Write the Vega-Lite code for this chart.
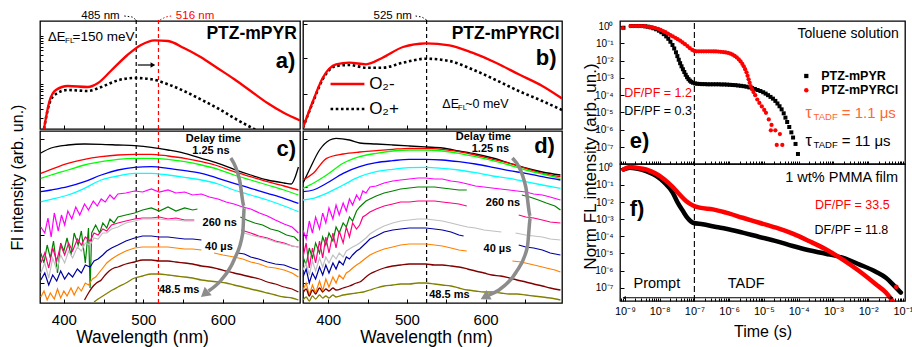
{
"$schema":"https://vega.github.io/schema/vega-lite/v6.json",
"background":"white",
"padding":{"left":8,"top":9,"right":0,"bottom":0},
"autosize":{"type":"pad"},
"config":{"font":"Liberation Sans","view":{"stroke":"#000","strokeWidth":1.3},
"axis":{"domain":false,"grid":false,"tickColor":"#000","tickSize":-4,"tickWidth":1,"labelColor":"#000","titleColor":"#000","titleFontWeight":"normal","labelFont":"Liberation Sans","titleFont":"Liberation Sans","labelOverlap":false,"labelFlush":false},
"text":{"font":"Liberation Sans","color":"#000"}},
"datasets":{
"ab":[
{"p":"a","s":"r","w":375,"v":0},{"p":"a","s":"r","w":382,"v":28},{"p":"a","s":"r","w":390,"v":39},{"p":"a","s":"r","w":405,"v":43},{"p":"a","s":"r","w":430,"v":42},{"p":"a","s":"r","w":443,"v":46},{"p":"a","s":"r","w":459,"v":58},{"p":"a","s":"r","w":480,"v":74},{"p":"a","s":"r","w":497,"v":84},{"p":"a","s":"r","w":514,"v":88.7},{"p":"a","s":"r","w":531,"v":88},{"p":"a","s":"r","w":551,"v":81},{"p":"a","s":"r","w":572,"v":72},{"p":"a","s":"r","w":593,"v":61},{"p":"a","s":"r","w":614,"v":50},{"p":"a","s":"r","w":635,"v":38},{"p":"a","s":"r","w":656,"v":26},{"p":"a","s":"r","w":677,"v":16},{"p":"a","s":"r","w":697,"v":8.5},
{"p":"a","s":"k","w":375,"v":0},{"p":"a","s":"k","w":382,"v":26},{"p":"a","s":"k","w":390,"v":35},{"p":"a","s":"k","w":405,"v":39},{"p":"a","s":"k","w":430,"v":38},{"p":"a","s":"k","w":447,"v":42},{"p":"a","s":"k","w":468,"v":48.7},{"p":"a","s":"k","w":488,"v":51},{"p":"a","s":"k","w":510,"v":49.7},{"p":"a","s":"k","w":531,"v":44.7},{"p":"a","s":"k","w":551,"v":38},{"p":"a","s":"k","w":572,"v":29.7},{"p":"a","s":"k","w":593,"v":21},{"p":"a","s":"k","w":614,"v":11},{"p":"a","s":"k","w":639,"v":0},{"p":"a","s":"k","w":650,"v":-5},
{"p":"b","s":"r","w":368,"v":1.3},{"p":"b","s":"r","w":380.7,"v":28},{"p":"b","s":"r","w":393,"v":51},{"p":"b","s":"r","w":410,"v":64.7},{"p":"b","s":"r","w":427,"v":66.3},{"p":"b","s":"r","w":448,"v":64.7},{"p":"b","s":"r","w":469,"v":71.3},{"p":"b","s":"r","w":495,"v":82},{"p":"b","s":"r","w":524,"v":85.7},{"p":"b","s":"r","w":554,"v":83.7},{"p":"b","s":"r","w":583,"v":76.3},{"p":"b","s":"r","w":613,"v":66.3},{"p":"b","s":"r","w":642,"v":54.7},{"p":"b","s":"r","w":672,"v":43},{"p":"b","s":"r","w":697,"v":30.5},
{"p":"b","s":"k","w":368,"v":1.3},{"p":"b","s":"k","w":380.7,"v":27},{"p":"b","s":"k","w":393,"v":49.7},{"p":"b","s":"k","w":410,"v":63},{"p":"b","s":"k","w":427,"v":64},{"p":"b","s":"k","w":448,"v":61.3},{"p":"b","s":"k","w":469,"v":61.3},{"p":"b","s":"k","w":495,"v":66.3},{"p":"b","s":"k","w":524,"v":70.3},{"p":"b","s":"k","w":554,"v":68},{"p":"b","s":"k","w":583,"v":59.7},{"p":"b","s":"k","w":613,"v":49},{"p":"b","s":"k","w":642,"v":38},{"p":"b","s":"k","w":672,"v":28},{"p":"b","s":"k","w":697,"v":19}
],
"C":[
{"s":"k","w":371,"v":150},{"s":"k","w":384,"v":155},{"s":"k","w":405,"v":158},{"s":"k","w":426,"v":159},{"s":"k","w":447,"v":158.7},{"s":"k","w":468,"v":158},{"s":"k","w":489,"v":157.3},{"s":"k","w":510,"v":155.7},{"s":"k","w":531,"v":153},{"s":"k","w":552,"v":149.7},{"s":"k","w":573,"v":144.7},{"s":"k","w":594,"v":139.7},{"s":"k","w":614,"v":133.7},{"s":"k","w":635,"v":128},{"s":"k","w":656,"v":123},{"s":"k","w":677,"v":120},{"s":"k","w":686,"v":119},{"s":"k","w":690,"v":124},{"s":"k","w":695,"v":136},
{"s":"r","w":371,"v":129.7},{"s":"r","w":384,"v":133.7},{"s":"r","w":405,"v":139.7},{"s":"r","w":426,"v":143.7},{"s":"r","w":447,"v":146.3},{"s":"r","w":468,"v":148},{"s":"r","w":489,"v":148.7},{"s":"r","w":510,"v":148.7},{"s":"r","w":531,"v":147},{"s":"r","w":552,"v":144.7},{"s":"r","w":573,"v":141.3},{"s":"r","w":594,"v":137},{"s":"r","w":614,"v":131.3},{"s":"r","w":635,"v":126.3},{"s":"r","w":656,"v":121.3},{"s":"r","w":677,"v":117},{"s":"r","w":695,"v":113},
{"s":"lm","w":371,"v":124.7},{"s":"lm","w":384,"v":128},{"s":"lm","w":405,"v":133},{"s":"lm","w":426,"v":138},{"s":"lm","w":447,"v":141.3},{"s":"lm","w":468,"v":143.7},{"s":"lm","w":489,"v":144.7},{"s":"lm","w":510,"v":144.7},{"s":"lm","w":531,"v":143.7},{"s":"lm","w":552,"v":141.3},{"s":"lm","w":573,"v":138},{"s":"lm","w":594,"v":133.7},{"s":"lm","w":614,"v":128},{"s":"lm","w":635,"v":123},{"s":"lm","w":656,"v":118},{"s":"lm","w":677,"v":113},{"s":"lm","w":695,"v":108},
{"s":"b","w":371,"v":111.3},{"s":"b","w":384,"v":113},{"s":"b","w":405,"v":116.3},{"s":"b","w":426,"v":121.3},{"s":"b","w":447,"v":128},{"s":"b","w":468,"v":133},{"s":"b","w":489,"v":135.7},{"s":"b","w":510,"v":136.3},{"s":"b","w":531,"v":134.7},{"s":"b","w":552,"v":132.3},{"s":"b","w":573,"v":129.7},{"s":"b","w":594,"v":124.7},{"s":"b","w":614,"v":119.7},{"s":"b","w":635,"v":114.7},{"s":"b","w":656,"v":109.7},{"s":"b","w":677,"v":104.7},{"s":"b","w":695,"v":99.7},
{"s":"cy","w":371,"v":101.3},{"s":"cy","w":384,"v":103.7},{"s":"cy","w":405,"v":108},{"s":"cy","w":426,"v":114.7},{"s":"cy","w":447,"v":123},{"s":"cy","w":468,"v":127},{"s":"cy","w":489,"v":129.7},{"s":"cy","w":510,"v":129.7},{"s":"cy","w":531,"v":128},{"s":"cy","w":552,"v":125.7},{"s":"cy","w":573,"v":123},{"s":"cy","w":594,"v":119},{"s":"cy","w":614,"v":113},{"s":"cy","w":635,"v":108},{"s":"cy","w":656,"v":103},{"s":"cy","w":677,"v":97},{"s":"cy","w":695,"v":91.3},
{"s":"m","w":371,"v":76},{"s":"m","w":376,"v":70},{"s":"m","w":380,"v":85},{"s":"m","w":384,"v":66},{"s":"m","w":388,"v":90},{"s":"m","w":393,"v":72},{"s":"m","w":397,"v":88},{"s":"m","w":401,"v":78},{"s":"m","w":405,"v":92},{"s":"m","w":410,"v":84},{"s":"m","w":415,"v":96},{"s":"m","w":420,"v":88},{"s":"m","w":426,"v":99},{"s":"m","w":431,"v":93},{"s":"m","w":437,"v":102},{"s":"m","w":442,"v":97},{"s":"m","w":447,"v":104},{"s":"m","w":452,"v":101},{"s":"m","w":458,"v":108},{"s":"m","w":463,"v":104},{"s":"m","w":468,"v":109},{"s":"m","w":478,"v":110},{"s":"m","w":489,"v":112},{"s":"m","w":499,"v":111},{"s":"m","w":510,"v":114},{"s":"m","w":520,"v":111},{"s":"m","w":531,"v":113},{"s":"m","w":541,"v":110},{"s":"m","w":552,"v":111},{"s":"m","w":562,"v":108},{"s":"m","w":573,"v":109},{"s":"m","w":583,"v":106},{"s":"m","w":594,"v":104},{"s":"m","w":604,"v":101},{"s":"m","w":614,"v":99},{"s":"m","w":625,"v":96},{"s":"m","w":635,"v":94},{"s":"m","w":646,"v":90},{"s":"m","w":656,"v":87},{"s":"m","w":666,"v":83},{"s":"m","w":677,"v":79},{"s":"m","w":687,"v":76},{"s":"m","w":695,"v":70},
{"s":"dg","w":371,"v":50},{"s":"dg","w":375,"v":40},{"s":"dg","w":379,"v":58},{"s":"dg","w":383,"v":45},{"s":"dg","w":387,"v":62},{"s":"dg","w":392,"v":30},{"s":"dg","w":396,"v":60},{"s":"dg","w":400,"v":52},{"s":"dg","w":404,"v":65},{"s":"dg","w":409,"v":48},{"s":"dg","w":413,"v":70},{"s":"dg","w":418,"v":58},{"s":"dg","w":422,"v":72},{"s":"dg","w":427,"v":40},{"s":"dg","w":431,"v":75},{"s":"dg","w":433,"v":15},{"s":"dg","w":435,"v":70},{"s":"dg","w":440,"v":78},{"s":"dg","w":445,"v":70},{"s":"dg","w":449,"v":80},{"s":"dg","w":454,"v":75},{"s":"dg","w":458,"v":84},{"s":"dg","w":463,"v":80},{"s":"dg","w":468,"v":86},{"s":"dg","w":478,"v":88},{"s":"dg","w":489,"v":90},{"s":"dg","w":499,"v":93},{"s":"dg","w":510,"v":95},{"s":"dg","w":520,"v":92},{"s":"dg","w":531,"v":96},{"s":"dg","w":541,"v":92},{"s":"dg","w":552,"v":95},{"s":"dg","w":562,"v":93},{"s":"dg","w":568,"v":94},
{"s":"dg","sg":1,"w":622,"v":86},{"s":"dg","sg":1,"w":630,"v":83},{"s":"dg","sg":1,"w":640,"v":80},{"s":"dg","sg":1,"w":650,"v":78},{"s":"dg","sg":1,"w":660,"v":74},{"s":"dg","sg":1,"w":670,"v":72},{"s":"dg","sg":1,"w":680,"v":68},{"s":"dg","sg":1,"w":690,"v":66},{"s":"dg","sg":1,"w":695,"v":62},
{"s":"pk","w":371,"v":40},{"s":"pk","w":376,"v":50},{"s":"pk","w":381,"v":35},{"s":"pk","w":386,"v":55},{"s":"pk","w":391,"v":42},{"s":"pk","w":396,"v":58},{"s":"pk","w":401,"v":48},{"s":"pk","w":406,"v":60},{"s":"pk","w":411,"v":52},{"s":"pk","w":417,"v":64},{"s":"pk","w":422,"v":58},{"s":"pk","w":427,"v":66},{"s":"pk","w":433,"v":62},{"s":"pk","w":438,"v":70},{"s":"pk","w":443,"v":68},{"s":"pk","w":449,"v":74},{"s":"pk","w":454,"v":72},{"s":"pk","w":460,"v":78},{"s":"pk","w":468,"v":80},{"s":"pk","w":478,"v":82},{"s":"pk","w":489,"v":84},{"s":"pk","w":499,"v":85},{"s":"pk","w":510,"v":85},{"s":"pk","w":520,"v":86},{"s":"pk","w":531,"v":84},{"s":"pk","w":541,"v":85},{"s":"pk","w":552,"v":83},{"s":"pk","w":564,"v":83},
{"s":"pk","sg":1,"w":623,"v":73},{"s":"pk","sg":1,"w":635,"v":70},{"s":"pk","sg":1,"w":645,"v":67},{"s":"pk","sg":1,"w":656,"v":65},{"s":"pk","sg":1,"w":666,"v":62},{"s":"pk","sg":1,"w":677,"v":60},{"s":"pk","sg":1,"w":687,"v":57},{"s":"pk","sg":1,"w":695,"v":56},
{"s":"gy","w":371,"v":30},{"s":"gy","w":376,"v":40},{"s":"gy","w":381,"v":25},{"s":"gy","w":386,"v":45},{"s":"gy","w":391,"v":33},{"s":"gy","w":396,"v":48},{"s":"gy","w":401,"v":40},{"s":"gy","w":406,"v":52},{"s":"gy","w":411,"v":45},{"s":"gy","w":417,"v":56},{"s":"gy","w":422,"v":52},{"s":"gy","w":427,"v":60},{"s":"gy","w":433,"v":58},{"s":"gy","w":438,"v":65},{"s":"gy","w":443,"v":64},{"s":"gy","w":449,"v":70},{"s":"gy","w":454,"v":70},{"s":"gy","w":460,"v":74},{"s":"gy","w":468,"v":76},{"s":"gy","w":478,"v":80},{"s":"gy","w":489,"v":82},{"s":"gy","w":499,"v":84},{"s":"gy","w":510,"v":84},{"s":"gy","w":520,"v":84},{"s":"gy","w":531,"v":83},{"s":"gy","w":541,"v":83},{"s":"gy","w":552,"v":82},{"s":"gy","w":564,"v":82},
{"s":"gy","sg":1,"w":623,"v":71},{"s":"gy","sg":1,"w":635,"v":68},{"s":"gy","sg":1,"w":645,"v":66},{"s":"gy","sg":1,"w":656,"v":64},{"s":"gy","sg":1,"w":666,"v":61},{"s":"gy","sg":1,"w":677,"v":59},{"s":"gy","sg":1,"w":687,"v":57},{"s":"gy","sg":1,"w":695,"v":56},
{"s":"nv","w":371,"v":23},{"s":"nv","w":376,"v":30},{"s":"nv","w":381,"v":18},{"s":"nv","w":386,"v":28},{"s":"nv","w":391,"v":22},{"s":"nv","w":396,"v":32},{"s":"nv","w":401,"v":24},{"s":"nv","w":406,"v":30},{"s":"nv","w":411,"v":26},{"s":"nv","w":417,"v":34},{"s":"nv","w":422,"v":30},{"s":"nv","w":427,"v":38},{"s":"nv","w":433,"v":36},{"s":"nv","w":438,"v":42},{"s":"nv","w":443,"v":44},{"s":"nv","w":449,"v":48},{"s":"nv","w":454,"v":52},{"s":"nv","w":460,"v":55},{"s":"nv","w":468,"v":58},{"s":"nv","w":478,"v":62},{"s":"nv","w":489,"v":65},{"s":"nv","w":499,"v":67},{"s":"nv","w":510,"v":67},{"s":"nv","w":520,"v":66},{"s":"nv","w":531,"v":66},{"s":"nv","w":541,"v":65},{"s":"nv","w":552,"v":64},{"s":"nv","w":562,"v":64},{"s":"nv","w":573,"v":63},
{"s":"nv","sg":1,"w":619,"v":50},{"s":"nv","sg":1,"w":627,"v":49},{"s":"nv","sg":1,"w":635,"v":46},{"s":"nv","sg":1,"w":645,"v":44},{"s":"nv","sg":1,"w":656,"v":41},{"s":"nv","sg":1,"w":666,"v":39},{"s":"nv","sg":1,"w":677,"v":38},{"s":"nv","sg":1,"w":687,"v":35},{"s":"nv","sg":1,"w":695,"v":33},
{"s":"or","w":371,"v":6},{"s":"or","w":375,"v":12},{"s":"or","w":379,"v":3},{"s":"or","w":383,"v":10},{"s":"or","w":388,"v":4},{"s":"or","w":392,"v":14},{"s":"or","w":396,"v":5},{"s":"or","w":400,"v":12},{"s":"or","w":404,"v":7},{"s":"or","w":409,"v":15},{"s":"or","w":413,"v":8},{"s":"or","w":418,"v":16},{"s":"or","w":422,"v":12},{"s":"or","w":427,"v":20},{"s":"or","w":431,"v":18},{"s":"or","w":436,"v":24},{"s":"or","w":440,"v":26},{"s":"or","w":445,"v":31},{"s":"or","w":449,"v":35},{"s":"or","w":454,"v":40},{"s":"or","w":460,"v":44},{"s":"or","w":468,"v":48},{"s":"or","w":478,"v":52},{"s":"or","w":489,"v":55},{"s":"or","w":499,"v":56},{"s":"or","w":510,"v":56},{"s":"or","w":520,"v":56},{"s":"or","w":531,"v":56},{"s":"or","w":541,"v":55},{"s":"or","w":552,"v":54},{"s":"or","w":562,"v":54},{"s":"or","w":573,"v":53},
{"s":"or","sg":1,"w":589,"v":50},{"s":"or","sg":1,"w":600,"v":48},{"s":"or","sg":1,"w":614,"v":46},{"s":"or","sg":1,"w":625,"v":44},{"s":"or","sg":1,"w":635,"v":41},{"s":"or","sg":1,"w":646,"v":39},{"s":"or","sg":1,"w":656,"v":36},{"s":"or","sg":1,"w":666,"v":35},{"s":"or","sg":1,"w":677,"v":33},{"s":"or","sg":1,"w":687,"v":30},{"s":"or","sg":1,"w":695,"v":26},
{"s":"mr","w":426,"v":3},{"s":"mr","w":431,"v":10},{"s":"mr","w":436,"v":16},{"s":"mr","w":441,"v":20},{"s":"mr","w":447,"v":23},{"s":"mr","w":452,"v":28},{"s":"mr","w":457,"v":32},{"s":"mr","w":463,"v":35},{"s":"mr","w":468,"v":36},{"s":"mr","w":478,"v":39},{"s":"mr","w":489,"v":41},{"s":"mr","w":499,"v":43},{"s":"mr","w":510,"v":43},{"s":"mr","w":520,"v":42},{"s":"mr","w":531,"v":42},{"s":"mr","w":541,"v":41},{"s":"mr","w":552,"v":40},{"s":"mr","w":562,"v":39},{"s":"mr","w":573,"v":37},{"s":"mr","w":583,"v":36},{"s":"mr","w":594,"v":34},{"s":"mr","w":604,"v":32},{"s":"mr","w":614,"v":30},{"s":"mr","w":625,"v":28},{"s":"mr","w":635,"v":26},{"s":"mr","w":646,"v":24},{"s":"mr","w":656,"v":21},{"s":"mr","w":666,"v":19},{"s":"mr","w":677,"v":16},{"s":"mr","w":687,"v":14},{"s":"mr","w":695,"v":11},
{"s":"ol","w":438,"v":1},{"s":"ol","w":443,"v":4},{"s":"ol","w":449,"v":7},{"s":"ol","w":455,"v":10},{"s":"ol","w":461,"v":13},{"s":"ol","w":468,"v":16},{"s":"ol","w":478,"v":20},{"s":"ol","w":489,"v":25},{"s":"ol","w":499,"v":27},{"s":"ol","w":510,"v":29},{"s":"ol","w":520,"v":29},{"s":"ol","w":531,"v":28},{"s":"ol","w":541,"v":27},{"s":"ol","w":552,"v":26},{"s":"ol","w":562,"v":25},{"s":"ol","w":573,"v":23},{"s":"ol","w":583,"v":22},{"s":"ol","w":594,"v":21},{"s":"ol","w":604,"v":20},{"s":"ol","w":614,"v":18},{"s":"ol","w":625,"v":16},{"s":"ol","w":635,"v":14},{"s":"ol","w":646,"v":12},{"s":"ol","w":656,"v":10},{"s":"ol","w":666,"v":8},{"s":"ol","w":677,"v":6},{"s":"ol","w":687,"v":5},{"s":"ol","w":695,"v":3}
],
"D":[
{"s":"k","w":368,"v":120},{"s":"k","w":376,"v":133},{"s":"k","w":389,"v":153},{"s":"k","w":402,"v":163},{"s":"k","w":410,"v":164.7},{"s":"k","w":427,"v":163},{"s":"k","w":440,"v":160},{"s":"k","w":461,"v":159},{"s":"k","w":482,"v":158},{"s":"k","w":503,"v":157},{"s":"k","w":524,"v":156},{"s":"k","w":545,"v":155},{"s":"k","w":566,"v":152},{"s":"k","w":587,"v":149},{"s":"k","w":609,"v":145},{"s":"k","w":630,"v":140},{"s":"k","w":651,"v":135},{"s":"k","w":672,"v":131},{"s":"k","w":695,"v":128},
{"s":"r","w":368,"v":123},{"s":"r","w":381,"v":129.7},{"s":"r","w":398,"v":144.7},{"s":"r","w":419,"v":149},{"s":"r","w":440,"v":151},{"s":"r","w":461,"v":152.3},{"s":"r","w":482,"v":153.7},{"s":"r","w":503,"v":154.7},{"s":"r","w":524,"v":154.7},{"s":"r","w":545,"v":153.7},{"s":"r","w":566,"v":151.3},{"s":"r","w":587,"v":148},{"s":"r","w":609,"v":143.7},{"s":"r","w":630,"v":139.7},{"s":"r","w":651,"v":134.7},{"s":"r","w":672,"v":129.7},{"s":"r","w":695,"v":126.3},
{"s":"lm","w":368,"v":114.7},{"s":"lm","w":381,"v":119.7},{"s":"lm","w":398,"v":128},{"s":"lm","w":419,"v":139.7},{"s":"lm","w":440,"v":146.3},{"s":"lm","w":461,"v":149.7},{"s":"lm","w":482,"v":152},{"s":"lm","w":503,"v":153},{"s":"lm","w":524,"v":153},{"s":"lm","w":545,"v":152},{"s":"lm","w":566,"v":149.7},{"s":"lm","w":587,"v":146.3},{"s":"lm","w":609,"v":142.3},{"s":"lm","w":630,"v":138},{"s":"lm","w":651,"v":133},{"s":"lm","w":672,"v":129},{"s":"lm","w":695,"v":124.7},
{"s":"b","w":368,"v":111.3},{"s":"b","w":381,"v":113},{"s":"b","w":398,"v":119.7},{"s":"b","w":419,"v":129.7},{"s":"b","w":440,"v":136.3},{"s":"b","w":461,"v":140.3},{"s":"b","w":482,"v":142.3},{"s":"b","w":503,"v":143.7},{"s":"b","w":524,"v":143.7},{"s":"b","w":545,"v":143},{"s":"b","w":566,"v":141.3},{"s":"b","w":587,"v":139},{"s":"b","w":609,"v":135.7},{"s":"b","w":630,"v":132.3},{"s":"b","w":651,"v":129.7},{"s":"b","w":672,"v":126.3},{"s":"b","w":695,"v":123},
{"s":"cy","w":368,"v":103},{"s":"cy","w":381,"v":104.7},{"s":"cy","w":398,"v":109.7},{"s":"cy","w":419,"v":118},{"s":"cy","w":440,"v":126.3},{"s":"cy","w":461,"v":131.3},{"s":"cy","w":482,"v":133.7},{"s":"cy","w":503,"v":135.3},{"s":"cy","w":524,"v":135.7},{"s":"cy","w":545,"v":134.7},{"s":"cy","w":566,"v":133},{"s":"cy","w":587,"v":130.3},{"s":"cy","w":609,"v":127},{"s":"cy","w":630,"v":124.7},{"s":"cy","w":651,"v":121.3},{"s":"cy","w":672,"v":118},{"s":"cy","w":695,"v":114.7},
{"s":"m","w":368,"v":73},{"s":"m","w":372,"v":64},{"s":"m","w":376,"v":82},{"s":"m","w":380,"v":70},{"s":"m","w":384,"v":86},{"s":"m","w":389,"v":74},{"s":"m","w":393,"v":90},{"s":"m","w":397,"v":80},{"s":"m","w":401,"v":95},{"s":"m","w":406,"v":84},{"s":"m","w":410,"v":98},{"s":"m","w":414,"v":88},{"s":"m","w":419,"v":100},{"s":"m","w":423,"v":92},{"s":"m","w":427,"v":104},{"s":"m","w":431,"v":98},{"s":"m","w":436,"v":108},{"s":"m","w":440,"v":103},{"s":"m","w":444,"v":112},{"s":"m","w":448,"v":110},{"s":"m","w":453,"v":116},{"s":"m","w":461,"v":117},{"s":"m","w":471,"v":120},{"s":"m","w":482,"v":122},{"s":"m","w":492,"v":123},{"s":"m","w":503,"v":124},{"s":"m","w":514,"v":125},{"s":"m","w":524,"v":125},{"s":"m","w":535,"v":124},{"s":"m","w":545,"v":124},{"s":"m","w":556,"v":122},{"s":"m","w":566,"v":121},{"s":"m","w":577,"v":119},{"s":"m","w":587,"v":117},{"s":"m","w":598,"v":116},{"s":"m","w":608,"v":115},{"s":"m","w":619,"v":114},{"s":"m","w":630,"v":113},{"s":"m","w":640,"v":112},{"s":"m","w":651,"v":111},{"s":"m","w":661,"v":109},{"s":"m","w":672,"v":108},{"s":"m","w":682,"v":106},{"s":"m","w":695,"v":103},
{"s":"dg","w":368,"v":46},{"s":"dg","w":372,"v":38},{"s":"dg","w":376,"v":55},{"s":"dg","w":380,"v":45},{"s":"dg","w":384,"v":60},{"s":"dg","w":389,"v":50},{"s":"dg","w":393,"v":66},{"s":"dg","w":397,"v":58},{"s":"dg","w":401,"v":70},{"s":"dg","w":406,"v":62},{"s":"dg","w":410,"v":76},{"s":"dg","w":414,"v":70},{"s":"dg","w":419,"v":80},{"s":"dg","w":423,"v":76},{"s":"dg","w":427,"v":86},{"s":"dg","w":431,"v":82},{"s":"dg","w":436,"v":92},{"s":"dg","w":440,"v":96},{"s":"dg","w":444,"v":99},{"s":"dg","w":448,"v":102},{"s":"dg","w":453,"v":104},{"s":"dg","w":461,"v":107},{"s":"dg","w":471,"v":110},{"s":"dg","w":482,"v":112},{"s":"dg","w":492,"v":114},{"s":"dg","w":503,"v":115},{"s":"dg","w":514,"v":116},{"s":"dg","w":524,"v":116},{"s":"dg","w":535,"v":116},{"s":"dg","w":545,"v":115},{"s":"dg","w":556,"v":114},{"s":"dg","w":566,"v":113},{"s":"dg","w":576,"v":113},
{"s":"dg","sg":1,"w":646,"v":108},{"s":"dg","sg":1,"w":656,"v":106},{"s":"dg","sg":1,"w":667,"v":103},{"s":"dg","sg":1,"w":677,"v":100},{"s":"dg","sg":1,"w":688,"v":97},{"s":"dg","sg":1,"w":695,"v":93},
{"s":"pk","w":368,"v":46},{"s":"pk","w":372,"v":60},{"s":"pk","w":376,"v":35},{"s":"pk","w":380,"v":55},{"s":"pk","w":384,"v":40},{"s":"pk","w":389,"v":62},{"s":"pk","w":393,"v":45},{"s":"pk","w":397,"v":66},{"s":"pk","w":401,"v":50},{"s":"pk","w":406,"v":70},{"s":"pk","w":410,"v":55},{"s":"pk","w":414,"v":72},{"s":"pk","w":419,"v":60},{"s":"pk","w":423,"v":76},{"s":"pk","w":427,"v":66},{"s":"pk","w":431,"v":80},{"s":"pk","w":436,"v":74},{"s":"pk","w":440,"v":78},{"s":"pk","w":444,"v":86},{"s":"pk","w":448,"v":88},{"s":"pk","w":453,"v":91},{"s":"pk","w":461,"v":94},{"s":"pk","w":471,"v":97},{"s":"pk","w":482,"v":99},{"s":"pk","w":492,"v":101},{"s":"pk","w":503,"v":101},{"s":"pk","w":514,"v":102},{"s":"pk","w":524,"v":102},{"s":"pk","w":535,"v":102},{"s":"pk","w":545,"v":101},{"s":"pk","w":556,"v":100},{"s":"pk","w":566,"v":99},{"s":"pk","w":576,"v":97},
{"s":"pk","sg":1,"w":642,"v":88},{"s":"pk","sg":1,"w":651,"v":86},{"s":"pk","sg":1,"w":661,"v":85},{"s":"pk","sg":1,"w":672,"v":83},{"s":"pk","sg":1,"w":682,"v":81},{"s":"pk","sg":1,"w":695,"v":80},
{"s":"gy","w":368,"v":33},{"s":"gy","w":372,"v":40},{"s":"gy","w":376,"v":28},{"s":"gy","w":380,"v":42},{"s":"gy","w":384,"v":32},{"s":"gy","w":389,"v":45},{"s":"gy","w":393,"v":36},{"s":"gy","w":397,"v":46},{"s":"gy","w":401,"v":40},{"s":"gy","w":406,"v":48},{"s":"gy","w":410,"v":44},{"s":"gy","w":414,"v":50},{"s":"gy","w":419,"v":46},{"s":"gy","w":423,"v":52},{"s":"gy","w":427,"v":54},{"s":"gy","w":431,"v":56},{"s":"gy","w":436,"v":58},{"s":"gy","w":440,"v":60},{"s":"gy","w":448,"v":65},{"s":"gy","w":453,"v":69},{"s":"gy","w":461,"v":73},{"s":"gy","w":471,"v":77},{"s":"gy","w":482,"v":80},{"s":"gy","w":492,"v":82},{"s":"gy","w":503,"v":83},{"s":"gy","w":514,"v":84},{"s":"gy","w":524,"v":84},{"s":"gy","w":535,"v":83},{"s":"gy","w":545,"v":82},{"s":"gy","w":556,"v":80},{"s":"gy","w":566,"v":78},{"s":"gy","w":577,"v":76},{"s":"gy","w":587,"v":75},{"s":"gy","w":598,"v":73},{"s":"gy","w":620,"v":71},
{"s":"gy","sg":1,"w":638,"v":70},{"s":"gy","sg":1,"w":651,"v":68},{"s":"gy","sg":1,"w":661,"v":67},{"s":"gy","sg":1,"w":672,"v":66},{"s":"gy","sg":1,"w":682,"v":64},{"s":"gy","sg":1,"w":695,"v":63},
{"s":"nv","w":368,"v":26},{"s":"nv","w":372,"v":34},{"s":"nv","w":376,"v":20},{"s":"nv","w":380,"v":30},{"s":"nv","w":384,"v":24},{"s":"nv","w":389,"v":36},{"s":"nv","w":393,"v":28},{"s":"nv","w":397,"v":38},{"s":"nv","w":401,"v":30},{"s":"nv","w":406,"v":40},{"s":"nv","w":410,"v":34},{"s":"nv","w":414,"v":42},{"s":"nv","w":419,"v":38},{"s":"nv","w":423,"v":46},{"s":"nv","w":427,"v":44},{"s":"nv","w":431,"v":48},{"s":"nv","w":436,"v":52},{"s":"nv","w":440,"v":54},{"s":"nv","w":448,"v":60},{"s":"nv","w":453,"v":64},{"s":"nv","w":461,"v":67},{"s":"nv","w":471,"v":71},{"s":"nv","w":482,"v":73},{"s":"nv","w":492,"v":74},{"s":"nv","w":503,"v":75},{"s":"nv","w":514,"v":75},{"s":"nv","w":524,"v":75},{"s":"nv","w":535,"v":74},{"s":"nv","w":545,"v":73},{"s":"nv","w":556,"v":71},{"s":"nv","w":566,"v":68},{"s":"nv","w":572,"v":67},
{"s":"nv","sg":1,"w":642,"v":58},{"s":"nv","sg":1,"w":651,"v":56},{"s":"nv","sg":1,"w":661,"v":55},{"s":"nv","sg":1,"w":672,"v":53},{"s":"nv","sg":1,"w":682,"v":50},{"s":"nv","sg":1,"w":695,"v":48},
{"s":"or","w":368,"v":13},{"s":"or","w":372,"v":20},{"s":"or","w":376,"v":8},{"s":"or","w":380,"v":18},{"s":"or","w":384,"v":10},{"s":"or","w":389,"v":22},{"s":"or","w":393,"v":12},{"s":"or","w":397,"v":24},{"s":"or","w":401,"v":16},{"s":"or","w":406,"v":26},{"s":"or","w":410,"v":20},{"s":"or","w":414,"v":28},{"s":"or","w":419,"v":24},{"s":"or","w":423,"v":30},{"s":"or","w":427,"v":32},{"s":"or","w":431,"v":35},{"s":"or","w":436,"v":38},{"s":"or","w":440,"v":40},{"s":"or","w":448,"v":45},{"s":"or","w":453,"v":48},{"s":"or","w":461,"v":51},{"s":"or","w":471,"v":54},{"s":"or","w":482,"v":56},{"s":"or","w":492,"v":58},{"s":"or","w":503,"v":59},{"s":"or","w":514,"v":59},{"s":"or","w":524,"v":59},{"s":"or","w":535,"v":58},{"s":"or","w":545,"v":57},{"s":"or","w":556,"v":55},{"s":"or","w":566,"v":53},{"s":"or","w":576,"v":52},
{"s":"or","sg":1,"w":634,"v":42},{"s":"or","sg":1,"w":645,"v":41},{"s":"or","sg":1,"w":656,"v":39},{"s":"or","sg":1,"w":667,"v":37},{"s":"or","sg":1,"w":677,"v":35},{"s":"or","sg":1,"w":688,"v":33},{"s":"or","sg":1,"w":695,"v":31},
{"s":"mr","w":368,"v":10},{"s":"mr","w":372,"v":14},{"s":"mr","w":376,"v":7},{"s":"mr","w":380,"v":13},{"s":"mr","w":384,"v":9},{"s":"mr","w":389,"v":15},{"s":"mr","w":393,"v":11},{"s":"mr","w":397,"v":14},{"s":"mr","w":401,"v":12},{"s":"mr","w":406,"v":15},{"s":"mr","w":410,"v":13},{"s":"mr","w":419,"v":15},{"s":"mr","w":427,"v":17},{"s":"mr","w":436,"v":20},{"s":"mr","w":440,"v":21},{"s":"mr","w":448,"v":26},{"s":"mr","w":453,"v":29},{"s":"mr","w":461,"v":32},{"s":"mr","w":471,"v":35},{"s":"mr","w":482,"v":37},{"s":"mr","w":492,"v":38},{"s":"mr","w":503,"v":39},{"s":"mr","w":514,"v":39},{"s":"mr","w":524,"v":39},{"s":"mr","w":535,"v":38},{"s":"mr","w":545,"v":38},{"s":"mr","w":556,"v":37},{"s":"mr","w":566,"v":36},{"s":"mr","w":577,"v":34},{"s":"mr","w":587,"v":32},{"s":"mr","w":598,"v":30},{"s":"mr","w":608,"v":28},{"s":"mr","w":619,"v":27},{"s":"mr","w":630,"v":25},{"s":"mr","w":640,"v":23},{"s":"mr","w":651,"v":21},{"s":"mr","w":661,"v":19},{"s":"mr","w":672,"v":17},{"s":"mr","w":682,"v":15},{"s":"mr","w":695,"v":13},
{"s":"ol","w":368,"v":3},{"s":"ol","w":372,"v":6},{"s":"ol","w":376,"v":2},{"s":"ol","w":380,"v":7},{"s":"ol","w":384,"v":4},{"s":"ol","w":389,"v":8},{"s":"ol","w":393,"v":5},{"s":"ol","w":397,"v":7},{"s":"ol","w":401,"v":5},{"s":"ol","w":406,"v":8},{"s":"ol","w":410,"v":6},{"s":"ol","w":419,"v":8},{"s":"ol","w":427,"v":9},{"s":"ol","w":436,"v":10},{"s":"ol","w":445,"v":11},{"s":"ol","w":453,"v":13},{"s":"ol","w":461,"v":15},{"s":"ol","w":471,"v":17},{"s":"ol","w":482,"v":18},{"s":"ol","w":492,"v":19},{"s":"ol","w":503,"v":19},{"s":"ol","w":514,"v":20},{"s":"ol","w":524,"v":20},{"s":"ol","w":535,"v":19},{"s":"ol","w":545,"v":18},{"s":"ol","w":556,"v":17},{"s":"ol","w":566,"v":15},{"s":"ol","w":577,"v":13},{"s":"ol","w":587,"v":12},{"s":"ol","w":598,"v":11},{"s":"ol","w":608,"v":11},{"s":"ol","w":619,"v":10},{"s":"ol","w":630,"v":9},{"s":"ol","w":640,"v":9},{"s":"ol","w":651,"v":8},{"s":"ol","w":661,"v":7},{"s":"ol","w":672,"v":6},{"s":"ol","w":682,"v":5},{"s":"ol","w":695,"v":3}
],
"E":[
{"s":"k","x":-9.04,"y":-0.1},{"s":"k","x":-8.82,"y":0},{"s":"k","x":-8.74,"y":0},{"s":"k","x":-8.66,"y":0},{"s":"k","x":-8.58,"y":0},{"s":"k","x":-8.5,"y":0},{"s":"k","x":-8.42,"y":-0.02},{"s":"k","x":-8.34,"y":-0.04},{"s":"k","x":-8.26,"y":-0.08},{"s":"k","x":-8.18,"y":-0.13},{"s":"k","x":-8.1,"y":-0.19},{"s":"k","x":-8.02,"y":-0.27},{"s":"k","x":-7.95,"y":-0.36},{"s":"k","x":-7.88,"y":-0.47},{"s":"k","x":-7.81,"y":-0.6},{"s":"k","x":-7.75,"y":-0.74},{"s":"k","x":-7.69,"y":-0.91},{"s":"k","x":-7.63,"y":-1.1},{"s":"k","x":-7.58,"y":-1.3},{"s":"k","x":-7.53,"y":-1.52},{"s":"k","x":-7.49,"y":-1.74},{"s":"k","x":-7.45,"y":-1.95},{"s":"k","x":-7.41,"y":-2.15},{"s":"k","x":-7.37,"y":-2.33},{"s":"k","x":-7.33,"y":-2.5},{"s":"k","x":-7.29,"y":-2.66},{"s":"k","x":-7.25,"y":-2.82},{"s":"k","x":-7.21,"y":-2.96},{"s":"k","x":-7.17,"y":-3.07},{"s":"k","x":-7.13,"y":-3.16},{"s":"k","x":-7.09,"y":-3.23},{"s":"k","x":-7.04,"y":-3.28},{"s":"k","x":-6.98,"y":-3.32},{"s":"k","x":-6.92,"y":-3.34},{"s":"k","x":-6.85,"y":-3.35},{"s":"k","x":-6.78,"y":-3.36},{"s":"k","x":-6.7,"y":-3.36},{"s":"k","x":-6.62,"y":-3.37},{"s":"k","x":-6.54,"y":-3.37},{"s":"k","x":-6.46,"y":-3.37},{"s":"k","x":-6.38,"y":-3.37},{"s":"k","x":-6.3,"y":-3.37},{"s":"k","x":-6.22,"y":-3.38},{"s":"k","x":-6.14,"y":-3.38},{"s":"k","x":-6.06,"y":-3.39},{"s":"k","x":-5.98,"y":-3.4},{"s":"k","x":-5.9,"y":-3.41},{"s":"k","x":-5.82,"y":-3.42},{"s":"k","x":-5.74,"y":-3.44},{"s":"k","x":-5.66,"y":-3.46},{"s":"k","x":-5.58,"y":-3.48},{"s":"k","x":-5.5,"y":-3.51},{"s":"k","x":-5.42,"y":-3.55},{"s":"k","x":-5.34,"y":-3.59},{"s":"k","x":-5.26,"y":-3.64},{"s":"k","x":-5.18,"y":-3.7},{"s":"k","x":-5.1,"y":-3.76},{"s":"k","x":-5.02,"y":-3.83},{"s":"k","x":-4.95,"y":-3.91},{"s":"k","x":-4.88,"y":-4},{"s":"k","x":-4.81,"y":-4.1},{"s":"k","x":-4.74,"y":-4.2},{"s":"k","x":-4.67,"y":-4.33},{"s":"k","x":-4.61,"y":-4.48},{"s":"k","x":-4.55,"y":-4.64},{"s":"k","x":-4.49,"y":-4.82},{"s":"k","x":-4.43,"y":-5.05},{"s":"k","x":-4.38,"y":-5.3},{"s":"k","x":-4.33,"y":-5.55},{"s":"k","x":-4.27,"y":-5.84},{"s":"k","x":-4.21,"y":-6.15},{"s":"k","x":-4.16,"y":-6.45},{"s":"k","x":-4.09,"y":-6.82},{"s":"k","x":-4.02,"y":-7.4},
{"s":"r","x":-9.06,"y":-0.12},{"s":"r","x":-8.84,"y":0},{"s":"r","x":-8.76,"y":0},{"s":"r","x":-8.68,"y":0},{"s":"r","x":-8.6,"y":0},{"s":"r","x":-8.52,"y":0},{"s":"r","x":-8.44,"y":-0.01},{"s":"r","x":-8.36,"y":-0.03},{"s":"r","x":-8.28,"y":-0.05},{"s":"r","x":-8.2,"y":-0.08},{"s":"r","x":-8.12,"y":-0.12},{"s":"r","x":-8.04,"y":-0.17},{"s":"r","x":-7.97,"y":-0.23},{"s":"r","x":-7.9,"y":-0.29},{"s":"r","x":-7.83,"y":-0.36},{"s":"r","x":-7.76,"y":-0.44},{"s":"r","x":-7.69,"y":-0.52},{"s":"r","x":-7.62,"y":-0.6},{"s":"r","x":-7.55,"y":-0.68},{"s":"r","x":-7.48,"y":-0.76},{"s":"r","x":-7.41,"y":-0.85},{"s":"r","x":-7.34,"y":-0.95},{"s":"r","x":-7.27,"y":-1.05},{"s":"r","x":-7.2,"y":-1.16},{"s":"r","x":-7.13,"y":-1.28},{"s":"r","x":-7.06,"y":-1.38},{"s":"r","x":-7,"y":-1.44},{"s":"r","x":-6.94,"y":-1.46},{"s":"r","x":-6.87,"y":-1.46},{"s":"r","x":-6.8,"y":-1.46},{"s":"r","x":-6.73,"y":-1.46},{"s":"r","x":-6.66,"y":-1.46},{"s":"r","x":-6.59,"y":-1.46},{"s":"r","x":-6.52,"y":-1.46},{"s":"r","x":-6.45,"y":-1.47},{"s":"r","x":-6.38,"y":-1.47},{"s":"r","x":-6.31,"y":-1.48},{"s":"r","x":-6.24,"y":-1.49},{"s":"r","x":-6.17,"y":-1.51},{"s":"r","x":-6.1,"y":-1.53},{"s":"r","x":-6.03,"y":-1.56},{"s":"r","x":-5.96,"y":-1.6},{"s":"r","x":-5.9,"y":-1.66},{"s":"r","x":-5.84,"y":-1.73},{"s":"r","x":-5.78,"y":-1.82},{"s":"r","x":-5.72,"y":-1.93},{"s":"r","x":-5.67,"y":-2.05},{"s":"r","x":-5.62,"y":-2.19},{"s":"r","x":-5.58,"y":-2.33},{"s":"r","x":-5.54,"y":-2.5},{"s":"r","x":-5.5,"y":-2.68},{"s":"r","x":-5.47,"y":-2.88},{"s":"r","x":-5.44,"y":-3.08},{"s":"r","x":-5.41,"y":-3.28},{"s":"r","x":-5.38,"y":-3.47},{"s":"r","x":-5.34,"y":-3.65},{"s":"r","x":-5.3,"y":-3.82},{"s":"r","x":-5.25,"y":-4},{"s":"r","x":-5.19,"y":-4.25},{"s":"r","x":-5.13,"y":-4.45},{"s":"r","x":-5.06,"y":-4.65},{"s":"r","x":-4.99,"y":-4.85},{"s":"r","x":-4.94,"y":-5.02},{"s":"r","x":-4.86,"y":-5.4},{"s":"r","x":-4.78,"y":-5.72},{"s":"r","x":-4.8,"y":-6.03},{"s":"r","x":-4.67,"y":-6.03},{"s":"r","x":-4.54,"y":-6.25},{"s":"r","x":-4.63,"y":-6.88},{"s":"r","x":-4.47,"y":-6.88}
],
"F":[
{"s":"k","x":-9.04,"y":-0.1},{"s":"k","x":-8.86,"y":0},{"s":"k","x":-8.67,"y":-0.04},{"s":"k","x":-8.39,"y":-0.19},{"s":"k","x":-8.1,"y":-0.48},{"s":"k","x":-7.86,"y":-0.87},{"s":"k","x":-7.62,"y":-1.46},{"s":"k","x":-7.48,"y":-2.04},{"s":"k","x":-7.33,"y":-2.53},{"s":"k","x":-7.19,"y":-2.95},{"s":"k","x":-7.04,"y":-3.21},{"s":"k","x":-6.76,"y":-3.3},{"s":"k","x":-6.37,"y":-3.46},{"s":"k","x":-6.09,"y":-3.56},{"s":"k","x":-5.61,"y":-3.79},{"s":"k","x":-5.13,"y":-4.04},{"s":"k","x":-4.65,"y":-4.28},{"s":"k","x":-4.17,"y":-4.57},{"s":"k","x":-3.7,"y":-4.82},{"s":"k","x":-3.22,"y":-5.02},{"s":"k","x":-2.74,"y":-5.25},{"s":"k","x":-2.26,"y":-5.64},{"s":"k","x":-1.78,"y":-6.07},{"s":"k","x":-1.49,"y":-6.42},{"s":"k","x":-1.2,"y":-7},{"s":"k","x":-1.06,"y":-7.29},
{"s":"r","x":-9.04,"y":-0.1},{"s":"r","x":-8.86,"y":0.04},{"s":"r","x":-8.67,"y":0},{"s":"r","x":-8.39,"y":-0.1},{"s":"r","x":-8.1,"y":-0.35},{"s":"r","x":-7.86,"y":-0.68},{"s":"r","x":-7.62,"y":-1.13},{"s":"r","x":-7.43,"y":-1.55},{"s":"r","x":-7.24,"y":-1.94},{"s":"r","x":-7.04,"y":-2.2},{"s":"r","x":-6.85,"y":-2.33},{"s":"r","x":-6.47,"y":-2.43},{"s":"r","x":-6.09,"y":-2.62},{"s":"r","x":-5.61,"y":-2.92},{"s":"r","x":-5.13,"y":-3.21},{"s":"r","x":-4.65,"y":-3.5},{"s":"r","x":-4.17,"y":-3.85},{"s":"r","x":-3.7,"y":-4.28},{"s":"r","x":-3.22,"y":-4.76},{"s":"r","x":-2.74,"y":-5.35},{"s":"r","x":-2.26,"y":-6.03},{"s":"r","x":-1.78,"y":-6.8},{"s":"r","x":-1.49,"y":-7.29},{"s":"r","x":-1.3,"y":-7.78},{"s":"r","x":-1.25,"y":-7.95}
]
},
"spacing":17,
"hconcat":[
{"spacing":0,"hconcat":[
 {"bounds":"flush","spacing":2,"vconcat":[
  {"width":260,"height":108,
   "encoding":{"x":{"field":"w","type":"quantitative","scale":{"domain":[370,697],"nice":false,"zero":false},"axis":{"values":[400,450,500,550,600,650],"labels":false,"title":null}},
               "y":{"field":"v","type":"quantitative","scale":{"domain":[0,108],"nice":false,"zero":false},"axis":{"values":[11,20,26,31,34,38,40,43,45,59,68,74,79,82,86,88,91,93],"labels":false,"title":null,"tickSize":-3}}},
   "layer":[
    {"data":{"values":[{"w":491,"v":0,"v2":111}]},"mark":{"type":"rule","strokeDash":[4,3],"color":"#000","strokeWidth":1.2},"encoding":{"y2":{"field":"v2"}}},
    {"data":{"values":[{"w":519,"v":0,"v2":111}]},"mark":{"type":"rule","strokeDash":[4,3],"color":"#ff0000","strokeWidth":1.2},"encoding":{"y2":{"field":"v2"}}},
    {"data":{"name":"ab"},"transform":[{"filter":"datum.p=='a' && datum.s=='k'"}],"mark":{"type":"line","color":"#000","strokeWidth":2.6,"strokeDash":[2.6,2.6],"interpolate":"monotone","clip":true}},
    {"data":{"name":"ab"},"transform":[{"filter":"datum.p=='a' && datum.s=='r'"}],"mark":{"type":"line","color":"#ff0000","strokeWidth":2.3,"interpolate":"monotone","clip":true}},
    {"data":{"values":[{"w":493,"v":64,"w2":510}]},"mark":{"type":"rule","color":"#000","strokeWidth":1.2},"encoding":{"x2":{"field":"w2"}}},
    {"data":{"values":[{"w":512,"v":64}]},"mark":{"type":"point","shape":"triangle-right","filled":true,"color":"#000","size":30,"opacity":1}},
    {"data":{"values":[{"w":476,"v":113},{"w":486,"v":112},{"w":491,"v":109}]},"mark":{"type":"line","color":"#000","strokeDash":[1.5,2],"strokeWidth":1}},
    {"data":{"values":[{"w":521,"v":109},{"w":528,"v":112},{"w":535,"v":113}]},"mark":{"type":"line","color":"#ff0000","strokeDash":[1.5,2],"strokeWidth":1}},
    {"data":{"values":[{"w":446,"v":113,"t":"485 nm"}]},"mark":{"type":"text","fontSize":11.5},"encoding":{"text":{"field":"t"}}},
    {"data":{"values":[{"w":565,"v":113,"t":"516 nm"}]},"mark":{"type":"text","fontSize":11.5,"color":"#ff0000"},"encoding":{"text":{"field":"t"}}},
    {"data":{"values":[{"w":380,"v":92,"t":"ΔE"}]},"mark":{"type":"text","fontSize":13,"align":"left"},"encoding":{"text":{"field":"t"}}},
    {"data":{"values":[{"w":401.5,"v":92,"t":"FL"}]},"mark":{"type":"text","fontSize":8,"align":"left","dy":4},"encoding":{"text":{"field":"t"}}},
    {"data":{"values":[{"w":411,"v":92,"t":"=150 meV"}]},"mark":{"type":"text","fontSize":13.5,"align":"left"},"encoding":{"text":{"field":"t"}}},
    {"data":{"values":[{"w":693,"v":95,"t":"PTZ-mPYR"}]},"mark":{"type":"text","fontSize":17.5,"fontWeight":"bold","align":"right"},"encoding":{"text":{"field":"t"}}},
    {"data":{"values":[{"w":691,"v":68,"t":"a)"}]},"mark":{"type":"text","fontSize":22,"fontWeight":"bold","align":"right"},"encoding":{"text":{"field":"t"}}}
   ]},
  {"width":260,"height":172,
   "encoding":{"x":{"field":"w","type":"quantitative","scale":{"domain":[370,697],"nice":false,"zero":false},"axis":{"values":[400,450,500,550,600,650],"labelExpr":"datum.value % 100 == 0 ? datum.label : ''","labelFontSize":15,"labelPadding":13,"title":"Wavelength (nm)","titleFontSize":17.5,"titleX":102,"titleY":39,"titleBaseline":"alphabetic"}},
               "y":{"field":"v","type":"quantitative","scale":{"domain":[0,172],"nice":false,"zero":false},"axis":{"values":[20,68,116,164],"labels":false,"title":"Fl intensity (arb. un.)","titleFontSize":16,"titleX":-23,"titleY":46,"titleBaseline":"middle"}}},
   "layer":[
    {"data":{"values":[{"w":491,"v":0,"v2":172}]},"mark":{"type":"rule","strokeDash":[4,3],"color":"#000","strokeWidth":1.2},"encoding":{"y2":{"field":"v2"}}},
    {"data":{"values":[{"w":519,"v":0,"v2":172}]},"mark":{"type":"rule","strokeDash":[4,3],"color":"#ff0000","strokeWidth":1.2},"encoding":{"y2":{"field":"v2"}}},
    {"data":{"name":"C"},"transform":[{"filter":"indexof(['k','r','lm','b','cy','mr','ol'], datum.s) < 0"}],"mark":{"type":"line","strokeWidth":1.2,"interpolate":"linear","clip":true},
     "encoding":{"color":{"field":"s","type":"nominal","scale":{"domain":["k","r","lm","b","cy","m","dg","pk","gy","nv","or","mr","ol"],"range":["#000000","#ff0000","#00ff00","#0000ff","#00ffff","#ff00ff","#008000","#ff0080","#c0c0c0","#0000a0","#ff8000","#800000","#808000"]},"legend":null},"detail":{"field":"sg"}}},
    {"data":{"name":"C"},"transform":[{"filter":"indexof(['k','r','lm','b','cy','mr','ol'], datum.s) >= 0"}],"mark":{"type":"line","strokeWidth":1.3,"interpolate":"monotone","clip":true},
     "encoding":{"color":{"field":"s","type":"nominal","scale":{"domain":["k","r","lm","b","cy","m","dg","pk","gy","nv","or","mr","ol"],"range":["#000000","#ff0000","#00ff00","#0000ff","#00ffff","#ff00ff","#008000","#ff0080","#c0c0c0","#0000a0","#ff8000","#800000","#808000"]},"legend":null},"detail":{"field":"sg"}}},
    {"data":{"values":[{"i":0,"w":610,"v":145},{"i":1,"w":621,"v":123},{"i":2,"w":627,"v":96},{"i":3,"w":625,"v":70},{"i":4,"w":614,"v":43},{"i":5,"w":598,"v":23},{"i":6,"w":582,"v":12}]},"mark":{"type":"line","color":"#8c8c8c","strokeWidth":3.5,"interpolate":"monotone"},"encoding":{"order":{"field":"i"}}},
    {"data":{"values":[{"w":577,"v":9}]},"mark":{"type":"point","shape":"triangle-left","filled":true,"color":"#8c8c8c","opacity":1,"size":120,"angle":-40}},
    {"data":{"values":[{"w":588,"v":164,"t":"Delay time"},{"w":585,"v":152,"t":"1.25 ns"},{"w":596,"v":80,"t":"260 ns"},{"w":595,"v":56,"t":"40 µs"},{"w":545,"v":13,"t":"48.5 ms"}]},"mark":{"type":"text","fontSize":11,"fontWeight":"bold"},"encoding":{"text":{"field":"t"}}},
    {"data":{"values":[{"w":692,"v":154,"t":"c)"}]},"mark":{"type":"text","fontSize":22,"fontWeight":"bold","align":"right"},"encoding":{"text":{"field":"t"}}}
   ]}
 ]},
 {"bounds":"flush","spacing":2,"vconcat":[
  {"width":259,"height":108,
   "encoding":{"x":{"field":"w","type":"quantitative","scale":{"domain":[368,697],"nice":false,"zero":false},"axis":{"values":[400,450,500,550,600,650],"labels":false,"title":null}},
               "y":{"field":"v","type":"quantitative","scale":{"domain":[0,108],"nice":false,"zero":false},"axis":{"values":[35,71,105],"labels":false,"title":null}}},
   "layer":[
    {"data":{"values":[{"w":525,"v":0,"v2":111}]},"mark":{"type":"rule","strokeDash":[4,3],"color":"#000","strokeWidth":1.2},"encoding":{"y2":{"field":"v2"}}},
    {"data":{"name":"ab"},"transform":[{"filter":"datum.p=='b' && datum.s=='k'"}],"mark":{"type":"line","color":"#000","strokeWidth":2.6,"strokeDash":[2.6,2.6],"interpolate":"monotone","clip":true}},
    {"data":{"name":"ab"},"transform":[{"filter":"datum.p=='b' && datum.s=='r'"}],"mark":{"type":"line","color":"#ff0000","strokeWidth":2.3,"interpolate":"monotone","clip":true}},
    {"data":{"values":[{"w":403,"v":45,"w2":446}]},"mark":{"type":"rule","color":"#ff0000","strokeWidth":2.3},"encoding":{"x2":{"field":"w2"}}},
    {"data":{"values":[{"w":403,"v":20,"w2":446}]},"mark":{"type":"rule","color":"#000","strokeWidth":2.6,"strokeDash":[2.6,2.6]},"encoding":{"x2":{"field":"w2"}}},
    {"data":{"values":[{"w":452,"v":45,"t":"O₂-"},{"w":452,"v":20,"t":"O₂+"}]},"mark":{"type":"text","fontSize":17,"align":"left"},"encoding":{"text":{"field":"t"}}},
    {"data":{"values":[{"w":511,"v":113},{"w":519,"v":112},{"w":525,"v":109}]},"mark":{"type":"line","color":"#000","strokeDash":[1.5,2],"strokeWidth":1}},
    {"data":{"values":[{"w":482,"v":113,"t":"525 nm"}]},"mark":{"type":"text","fontSize":11.5},"encoding":{"text":{"field":"t"}}},
    {"data":{"values":[{"w":545,"v":25,"t":"ΔE"}]},"mark":{"type":"text","fontSize":12.5,"align":"left"},"encoding":{"text":{"field":"t"}}},
    {"data":{"values":[{"w":565,"v":25,"t":"FL"}]},"mark":{"type":"text","fontSize":7.5,"align":"left","dy":4},"encoding":{"text":{"field":"t"}}},
    {"data":{"values":[{"w":574,"v":25,"t":"~0 meV"}]},"mark":{"type":"text","fontSize":12.5,"align":"left"},"encoding":{"text":{"field":"t"}}},
    {"data":{"values":[{"w":694,"v":95,"t":"PTZ-mPYRCl"}]},"mark":{"type":"text","fontSize":17.5,"fontWeight":"bold","align":"right"},"encoding":{"text":{"field":"t"}}},
    {"data":{"values":[{"w":690,"v":71,"t":"b)"}]},"mark":{"type":"text","fontSize":22,"fontWeight":"bold","align":"right"},"encoding":{"text":{"field":"t"}}}
   ]},
  {"width":259,"height":172,
   "encoding":{"x":{"field":"w","type":"quantitative","scale":{"domain":[368,697],"nice":false,"zero":false},"axis":{"values":[400,450,500,550,600,650],"labelExpr":"datum.value % 100 == 0 ? datum.label : ''","labelFontSize":15,"labelPadding":13,"title":"Wavelength (nm)","titleFontSize":17.5,"titleX":123,"titleY":39,"titleBaseline":"alphabetic"}},
               "y":{"field":"v","type":"quantitative","scale":{"domain":[0,172],"nice":false,"zero":false},"axis":{"values":[20,68,116,164],"labels":false,"title":null}}},
   "layer":[
    {"data":{"values":[{"w":525,"v":0,"v2":172}]},"mark":{"type":"rule","strokeDash":[4,3],"color":"#000","strokeWidth":1.2},"encoding":{"y2":{"field":"v2"}}},
    {"data":{"name":"D"},"transform":[{"filter":"indexof(['k','r','lm','b','cy','mr','ol'], datum.s) < 0"}],"mark":{"type":"line","strokeWidth":1.2,"interpolate":"linear","clip":true},
     "encoding":{"color":{"field":"s","type":"nominal","scale":{"domain":["k","r","lm","b","cy","m","dg","pk","gy","nv","or","mr","ol"],"range":["#000000","#ff0000","#00ff00","#0000ff","#00ffff","#ff00ff","#008000","#ff0080","#c0c0c0","#0000a0","#ff8000","#800000","#808000"]},"legend":null},"detail":{"field":"sg"}}},
    {"data":{"name":"D"},"transform":[{"filter":"indexof(['k','r','lm','b','cy','mr','ol'], datum.s) >= 0"}],"mark":{"type":"line","strokeWidth":1.3,"interpolate":"monotone","clip":true},
     "encoding":{"color":{"field":"s","type":"nominal","scale":{"domain":["k","r","lm","b","cy","m","dg","pk","gy","nv","or","mr","ol"],"range":["#000000","#ff0000","#00ff00","#0000ff","#00ffff","#ff00ff","#008000","#ff0080","#c0c0c0","#0000a0","#ff8000","#800000","#808000"]},"legend":null},"detail":{"field":"sg"}}},
    {"data":{"values":[{"i":0,"w":634,"v":145},{"i":1,"w":651,"v":116},{"i":2,"w":657,"v":86},{"i":3,"w":653,"v":56},{"i":4,"w":638,"v":30},{"i":5,"w":617,"v":13},{"i":6,"w":604,"v":8}]},"mark":{"type":"line","color":"#8c8c8c","strokeWidth":3.5,"interpolate":"monotone"},"encoding":{"order":{"field":"i"}}},
    {"data":{"values":[{"w":599,"v":6}]},"mark":{"type":"point","shape":"triangle-left","filled":true,"color":"#8c8c8c","opacity":1,"size":120,"angle":-28}},
    {"data":{"values":[{"w":597,"v":166,"t":"Delay time"},{"w":606,"v":154,"t":"1.25 ns"},{"w":622,"v":100,"t":"260 ns"},{"w":615,"v":54,"t":"40 µs"},{"w":554,"v":8,"t":"48.5 ms"}]},"mark":{"type":"text","fontSize":11,"fontWeight":"bold"},"encoding":{"text":{"field":"t"}}},
    {"data":{"values":[{"w":688,"v":157,"t":"d)"}]},"mark":{"type":"text","fontSize":22,"fontWeight":"bold","align":"right"},"encoding":{"text":{"field":"t"}}}
   ]}
 ]}
]},
{"bounds":"flush","spacing":0,"vconcat":[
 {"width":285,"height":143,
  "encoding":{"x":{"field":"x","type":"quantitative","scale":{"domain":[-9.14,-0.94],"nice":false,"zero":false},"axis":{"values":[-9.097,-9.046,-9,-8.699,-8.523,-8.398,-8.301,-8.222,-8.155,-8.097,-8.046,-8,-7.699,-7.523,-7.398,-7.301,-7.222,-7.155,-7.097,-7.046,-7,-6.699,-6.523,-6.398,-6.301,-6.222,-6.155,-6.097,-6.046,-6,-5.699,-5.523,-5.398,-5.301,-5.222,-5.155,-5.097,-5.046,-5,-4.699,-4.523,-4.398,-4.301,-4.222,-4.155,-4.097,-4.046,-4,-3.699,-3.523,-3.398,-3.301,-3.222,-3.155,-3.097,-3.046,-3,-2.699,-2.523,-2.398,-2.301,-2.222,-2.155,-2.097,-2.046,-2,-1.699,-1.523,-1.398,-1.301,-1.222,-1.155,-1.097,-1.046,-1],"labels":false,"title":null,"tickSize":-3}},
              "y":{"field":"y","type":"quantitative","scale":{"domain":[-7.98,0.29],"nice":false,"zero":false},"axis":{"values":[-7,-6,-5,-4,-3,-2,-1,0],"labelExpr":"'10' + (datum.value == 0 ? '⁰' : '⁻' + substring('⁰¹²³⁴⁵⁶⁷⁸⁹', -datum.value, 1 - datum.value))","labelFontSize":10,"labelPadding":11,"title":null}}},
  "layer":[
   {"data":{"values":[{"x":-7,"y":-7.98,"y2":0.29}]},"mark":{"type":"rule","strokeDash":[6,3],"color":"#000","strokeWidth":1.1},"encoding":{"y2":{"field":"y2"}}},
   {"data":{"name":"E"},"transform":[{"filter":"datum.s=='k'"}],"mark":{"type":"square","color":"#000","size":16,"opacity":1}},
   {"data":{"name":"E"},"transform":[{"filter":"datum.s=='r'"}],"mark":{"type":"circle","color":"#ff0000","size":18,"opacity":1}},
   {"data":{"values":[{"x":-3.78,"y":-2.89}]},"mark":{"type":"square","color":"#000","size":18,"opacity":1}},
   {"data":{"values":[{"x":-3.78,"y":-3.72}]},"mark":{"type":"circle","color":"#ff0000","size":20,"opacity":1}},
   {"data":{"values":[{"x":-3.35,"y":-2.89,"t":"PTZ-mPYR"},{"x":-3.35,"y":-3.72,"t":"PTZ-mPYRCl"}]},"mark":{"type":"text","fontSize":12.5,"fontWeight":"bold","align":"left"},"encoding":{"text":{"field":"t"}}},
   {"data":{"values":[{"x":-1.12,"y":-0.48,"t":"Toluene solution"}]},"mark":{"type":"text","fontSize":14,"align":"right"},"encoding":{"text":{"field":"t"}}},
   {"data":{"values":[{"x":-9.02,"y":-3.85,"t":"DF/PF = 1.2"}]},"mark":{"type":"text","fontSize":12.5,"align":"left","color":"#ff0000"},"encoding":{"text":{"field":"t"}}},
   {"data":{"values":[{"x":-9.02,"y":-4.91,"t":"DF/PF = 0.3"}]},"mark":{"type":"text","fontSize":12.5,"align":"left"},"encoding":{"text":{"field":"t"}}},
   {"data":{"values":[{"x":-3.8,"y":-5.01,"t":"τ"}]},"mark":{"type":"text","fontSize":16,"align":"left","color":"#ff6633"},"encoding":{"text":{"field":"t"}}},
   {"data":{"values":[{"x":-3.57,"y":-5.01,"t":"TADF"}]},"mark":{"type":"text","fontSize":9.5,"align":"left","dy":4,"color":"#ff6633"},"encoding":{"text":{"field":"t"}}},
   {"data":{"values":[{"x":-2.76,"y":-5.01,"t":"= 1.1 μs"}]},"mark":{"type":"text","fontSize":15,"align":"left","color":"#ff6633"},"encoding":{"text":{"field":"t"}}},
   {"data":{"values":[{"x":-3.8,"y":-6.65,"t":"τ"}]},"mark":{"type":"text","fontSize":16,"align":"left"},"encoding":{"text":{"field":"t"}}},
   {"data":{"values":[{"x":-3.57,"y":-6.65,"t":"TADF"}]},"mark":{"type":"text","fontSize":9.5,"align":"left","dy":4},"encoding":{"text":{"field":"t"}}},
   {"data":{"values":[{"x":-2.76,"y":-6.65,"t":"= 11 μs"}]},"mark":{"type":"text","fontSize":15,"align":"left"},"encoding":{"text":{"field":"t"}}},
   {"data":{"values":[{"x":-8.86,"y":-6.65,"t":"e)"}]},"mark":{"type":"text","fontSize":22,"fontWeight":"bold","align":"left"},"encoding":{"text":{"field":"t"}}}
  ]},
 {"width":285,"height":137,
  "encoding":{"x":{"field":"x","type":"quantitative","scale":{"domain":[-9.14,-0.94],"nice":false,"zero":false},"axis":{"values":[-9.097,-9.046,-9,-8.699,-8.523,-8.398,-8.301,-8.222,-8.155,-8.097,-8.046,-8,-7.699,-7.523,-7.398,-7.301,-7.222,-7.155,-7.097,-7.046,-7,-6.699,-6.523,-6.398,-6.301,-6.222,-6.155,-6.097,-6.046,-6,-5.699,-5.523,-5.398,-5.301,-5.222,-5.155,-5.097,-5.046,-5,-4.699,-4.523,-4.398,-4.301,-4.222,-4.155,-4.097,-4.046,-4,-3.699,-3.523,-3.398,-3.301,-3.222,-3.155,-3.097,-3.046,-3,-2.699,-2.523,-2.398,-2.301,-2.222,-2.155,-2.097,-2.046,-2,-1.699,-1.523,-1.398,-1.301,-1.222,-1.155,-1.097,-1.046,-1],"labelExpr":"abs(datum.value - round(datum.value)) > 0.001 ? '' : '10' + (datum.value == 0 ? '⁰' : '⁻' + substring('⁰¹²³⁴⁵⁶⁷⁸⁹', -datum.value, 1 - datum.value))","labelFontSize":11,"labelPadding":7,"tickSize":-3,"title":"Time (s)","titleFontSize":16,"titleY":35,"titleBaseline":"alphabetic"}},
              "y":{"field":"y","type":"quantitative","scale":{"domain":[-7.78,0.22],"nice":false,"zero":false},"axis":{"values":[-7,-6,-5,-4,-3,-2,-1,0],"labelExpr":"'10' + (datum.value == 0 ? '⁰' : '⁻' + substring('⁰¹²³⁴⁵⁶⁷⁸⁹', -datum.value, 1 - datum.value))","labelFontSize":10,"labelPadding":11,"title":"Norm FL intensity (arb. un.)","titleFontSize":17,"titleX":-30,"titleY":2,"titleBaseline":"middle"}}},
  "layer":[
   {"data":{"values":[{"x":-7,"y":-7.78,"y2":0.22}]},"mark":{"type":"rule","strokeDash":[6,3],"color":"#000","strokeWidth":1.1},"encoding":{"y2":{"field":"y2"}}},
   {"data":{"name":"F"},"transform":[{"filter":"datum.s=='k'"}],"mark":{"type":"line","color":"#000","strokeWidth":4.5,"interpolate":"monotone","clip":true,"strokeCap":"round"}},
   {"data":{"name":"F"},"transform":[{"filter":"datum.s=='r'"}],"mark":{"type":"line","color":"#ff0000","strokeWidth":4.5,"interpolate":"monotone","clip":true,"strokeCap":"round"}},
   {"data":{"values":[{"x":-1.19,"y":-6.96}]},"mark":{"type":"circle","color":"#ff0000","size":22,"opacity":1}},
   {"data":{"values":[{"x":-9.04,"y":-7.59,"x2":-1.3}]},"mark":{"type":"rule","color":"#000","strokeWidth":1},"encoding":{"x2":{"field":"x2"}}},
   {"data":{"values":[{"x":-9.02,"y":-7.59}]},"mark":{"type":"point","shape":"triangle-left","filled":true,"color":"#000","opacity":1,"size":14}},
   {"data":{"values":[{"x":-1.32,"y":-7.59}]},"mark":{"type":"point","shape":"triangle-right","filled":true,"color":"#000","opacity":1,"size":14}},
   {"data":{"values":[{"x":-1.14,"y":-0.58,"t":"1 wt% PMMA film"}]},"mark":{"type":"text","fontSize":14.5,"align":"right"},"encoding":{"text":{"field":"t"}}},
   {"data":{"values":[{"x":-1.38,"y":-2.2,"t":"DF/PF = 33.5"}]},"mark":{"type":"text","fontSize":12.5,"align":"right","color":"#ff0000"},"encoding":{"text":{"field":"t"}}},
   {"data":{"values":[{"x":-1.42,"y":-3.66,"t":"DF/PF = 11.8"}]},"mark":{"type":"text","fontSize":12.5,"align":"right"},"encoding":{"text":{"field":"t"}}},
   {"data":{"values":[{"x":-8.86,"y":-2.43,"t":"f)"}]},"mark":{"type":"text","fontSize":22,"fontWeight":"bold","align":"left"},"encoding":{"text":{"field":"t"}}},
   {"data":{"values":[{"x":-8.08,"y":-6.8,"t":"Prompt"},{"x":-5.51,"y":-6.8,"t":"TADF"}]},"mark":{"type":"text","fontSize":14.5},"encoding":{"text":{"field":"t"}}}
  ]}
]}
]
}
